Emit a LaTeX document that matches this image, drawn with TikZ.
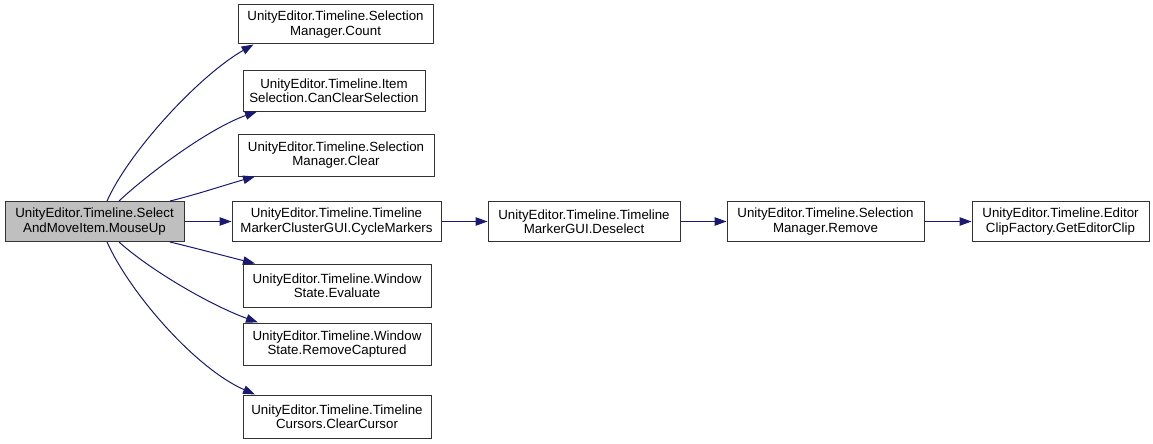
\documentclass[tikz,border=0pt]{standalone}
\usepackage{fontspec}
\setmainfont{Liberation Sans}
\usetikzlibrary{arrows.meta}
\definecolor{edgeblue}{HTML}{191970}
\definecolor{boxline}{HTML}{333333}
\tikzset{
  box/.style={draw=boxline, line width=1pt, fill=white, align=center, inner sep=0pt,
    minimum height=40pt, font=\fontsize{13.3}{14.5}\selectfont},
  mainbox/.style={box, fill=black!25},
  edge/.style={draw=edgeblue, line width=1pt, -{Triangle[length=12pt,width=8.5pt]}},
}
\begin{document}
\begin{tikzpicture}[x=1pt,y=-1pt]
\useasboundingbox (0,0) rectangle (1153,444);
\node[mainbox, minimum width=179pt] (main) at (94.5,221.5) {UnityEditor.Timeline.Select\\AndMoveItem.MouseUp};
\node[box, minimum width=195pt, minimum height=39pt] (count) at (335.5,24.5) {UnityEditor.Timeline.Selection\\Manager.Count};
\node[box, minimum width=182pt, minimum height=41pt] (canclear) at (334,90.5) {UnityEditor.Timeline.Item\\Selection.CanClearSelection};
\node[box, minimum width=196pt, minimum height=42pt] (clear) at (336,155) {UnityEditor.Timeline.Selection\\Manager.Clear};
\node[box, minimum width=209pt] (cycle) at (336.5,221.5) {UnityEditor.Timeline.Timeline\\MarkerClusterGUI.CycleMarkers};
\node[box, minimum width=188pt, minimum height=43pt] (evaluate) at (337,285.5) {UnityEditor.Timeline.Window\\State.Evaluate};
\node[box, minimum width=188pt, minimum height=42pt] (removecap) at (337,344) {UnityEditor.Timeline.Window\\State.RemoveCaptured};
\node[box, minimum width=188pt, minimum height=43pt] (clearcursor) at (337,416.5) {UnityEditor.Timeline.Timeline\\Cursors.ClearCursor};
\node[box, minimum width=192pt] (deselect) at (584,221.5) {UnityEditor.Timeline.Timeline\\MarkerGUI.Deselect};
\node[box, minimum width=197pt] (remove) at (825.5,221.5) {UnityEditor.Timeline.Selection\\Manager.Remove};
\node[box, minimum width=177pt] (geteditor) at (1060.5,221.5) {UnityEditor.Timeline.Editor\\ClipFactory.GetEditorClip};

\draw[edge] ([xshift=12.5pt]main.north) .. controls (130,150) and (200,75) .. ([xshift=-82pt]count.south);
\draw[edge] ([xshift=24.5pt]main.north) .. controls (150,172) and (210,128) .. ([xshift=-77pt]canclear.south);
\draw[edge] ([xshift=75.5pt]main.north) .. controls (195,195) and (225,185) .. ([xshift=-81pt]clear.south);
\draw[edge] (main.east) -- (cycle.west);
\draw[edge] ([xshift=75.5pt]main.south) .. controls (195,248) and (225,256) .. ([xshift=-82pt]evaluate.north);
\draw[edge] ([xshift=24.5pt]main.south) .. controls (150,270) and (210,305) .. ([xshift=-79pt]removecap.north);
\draw[edge] ([xshift=12.5pt]main.south) .. controls (130,293) and (195,368) .. ([xshift=-82pt]clearcursor.north);
\draw[edge] (cycle.east) -- (deselect.west);
\draw[edge] (deselect.east) -- (remove.west);
\draw[edge] (remove.east) -- (geteditor.west);
\end{tikzpicture}
\end{document}
